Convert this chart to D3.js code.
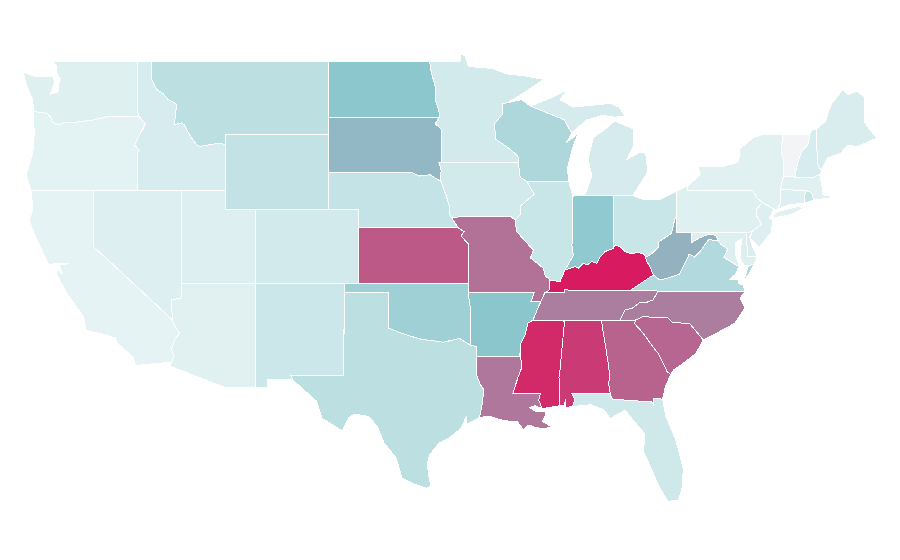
<!DOCTYPE html>
<html>
<head>
<meta charset="utf-8">
<style>
    html, body { margin: 0; padding: 0; background: #fff; }
    svg { display: block; }
    .state { stroke: #fff; stroke-width: 1; stroke-linejoin: round; shape-rendering: crispEdges; }
</style>
<script src="https://cdn.jsdelivr.net/npm/d3@7"></script>
</head>
<body>
<script>
// state values
var stateNames = ["WA","OR","CA","NV","UT","AZ","ID","MT","WY","CO","NM","ND","SD","NE","KS","OK","TX","MN","IA","MO","AR","LA","WI","IL","MS","AL","GA","TN","KY","IN","OH","MI","WV","VA","NC","SC","FL","NY","PA","NJ","VT","NH","ME","MA","CT","RI","DE","MD"];
var stateValues = [9,7,6,10,10,8,13,26,23,15,18,49,54,22,82,40,26,15,15,75,50,73,33,20,96,91,79,71,100,47,20,14,56,31,71,78,17,8,9,10,0,13,12,8,10,20,12,10];

// color ramp
var colorStops = [0, 6, 50, 100];
var colorRange = ["#f2f4f6", "#e5f3f4", "#8bc6cd", "#d81b60"];

// map frame: lon/lat anchors and where they land on the page
var lonDomain = [-120, -70];
var lonRange = [93.3, 831.8];
var latDomain = [25.1, 32, 37, 41, 45, 49];
var latRange = [502, 375.3, 283.3, 209.3, 134.7, 61];

// shared river borders, running downstream
var ohioRiver = [[-80.65,40.4],[-80.85,39.7],[-81.7,39.25],[-81.75,38.95],[-82.2,38.6],[-82.6,38.4],[-82.76,38.62],[-83.1,38.65],[-83.66,38.62],[-84,38.71],[-84.34,38.98],[-84.68,39.07],[-84.79,38.89],[-85.36,38.71],[-85.7,38.4],[-85.92,38.08],[-86.26,38.17],[-86.55,37.99],[-86.82,38.08],[-87.16,37.81],[-87.39,37.9],[-87.72,37.81],[-88.06,37.72],[-88.4,37.09],[-89.08,37.18]];
var lowerMississippi = [[-89.7,36],[-89.9,35.66],[-90.23,35],[-90.57,34.84],[-90.77,34.19],[-91.11,33.65],[-91.11,33.21],[-90.98,32.45],[-91.24,31.9],[-91.6,31]];
var upperMississippi = [[-91.45,40.42],[-91.33,39.8],[-90.65,39.18],[-90.2,38.8],[-90.4,38.37],[-89.55,37.83],[-89.4,37.4],[-89.08,37.18]];

function riverPart(river, from, to) {
    var part = river.slice(Math.min(from, to), Math.max(from, to) + 1);
    return from > to ? part.reverse() : part;
}

// outlines in lon/lat, one list of rings for each state
var outlines = {
    WA: [[[-122.76,49],[-117.03,49],[-117.04,46.4],[-116.92,46],[-119,46],[-119.3,45.93],[-120,45.8],[-120.6,45.74],[-121.2,45.67],[-121.9,45.68],[-122.3,45.55],[-122.75,45.65],[-122.85,45.9],[-123.1,46.15],[-123.4,46.2],[-123.9,46.24],[-124.05,46.27],[-124.1,46.9],[-124.35,47.35],[-124.6,47.9],[-124.73,48.38],[-123.9,48.16],[-123.1,48.15],[-122.75,48.15],[-122.6,47.9],[-122.9,47.2],[-122.4,47.3],[-122.35,47.7],[-122.25,48.05],[-122.5,48.4],[-122.5,48.75]]],
    OR: [[[-124.05,46.27],[-123.9,46.24],[-123.4,46.2],[-123.1,46.15],[-122.85,45.9],[-122.75,45.65],[-122.3,45.55],[-121.9,45.68],[-121.2,45.67],[-120.6,45.74],[-120,45.8],[-119.3,45.93],[-119,46],[-116.92,46],[-116.47,45.6],[-116.85,45],[-117.2,44.45],[-116.95,44.2],[-117.03,43.83],[-117.03,42],[-124.2,42],[-124.55,42.85],[-124.1,44],[-124,45]]],
    CA: [[[-124.2,42],[-120,42],[-120,39],[-114.63,35],[-114.57,34.8],[-114.15,34.27],[-114.45,34],[-114.72,33.4],[-114.52,33],[-114.72,32.72],[-117.12,32.53],[-117.3,33],[-118.4,33.75],[-118.5,34.03],[-119.2,34.2],[-120.5,34.45],[-120.65,35.15],[-121.9,36.6],[-122.5,37.5],[-122.4,37.8],[-122.1,37.5],[-122.3,38],[-121.7,38.05],[-122.4,38.1],[-123,38],[-123.8,39.3],[-124.35,40.4],[-124.1,41]]],
    NV: [[[-120,42],[-114.04,42],[-114.04,36.2],[-114.74,36.1],[-114.63,35],[-120,39]]],
    UT: [[[-114.04,42],[-111.05,42],[-111.05,41],[-109.05,41],[-109.05,37],[-114.04,37]]],
    AZ: [[[-114.04,37],[-109.05,37],[-109.05,31.33],[-111.07,31.33],[-114.82,32.5],[-114.72,32.72],[-114.52,33],[-114.72,33.4],[-114.45,34],[-114.15,34.27],[-114.57,34.8],[-114.63,35],[-114.74,36.1],[-114.04,36.2]]],
    ID: [[[-117.03,49],[-116.05,49],[-116.05,48],[-115.7,47.45],[-115.3,47.25],[-114.95,46.92],[-114.35,46.65],[-114.45,46],[-114.5,45.55],[-114,45.65],[-113.8,45.5],[-113.45,44.95],[-113,44.45],[-112.8,44.37],[-111.5,44.55],[-111.05,44.47],[-111.05,42],[-117.03,42],[-117.03,43.83],[-116.95,44.2],[-117.2,44.45],[-116.85,45],[-116.47,45.6],[-116.92,46],[-117.04,46.4]]],
    MT: [[[-116.05,49],[-104.05,49],[-104.05,45],[-111.05,45],[-111.05,44.47],[-111.5,44.55],[-112.8,44.37],[-113,44.45],[-113.45,44.95],[-113.8,45.5],[-114,45.65],[-114.5,45.55],[-114.45,46],[-114.35,46.65],[-114.95,46.92],[-115.3,47.25],[-115.7,47.45],[-116.05,48]]],
    WY: [[[-111.05,45],[-104.05,45],[-104.05,41],[-111.05,41]]],
    CO: [[[-109.05,41],[-102.05,41],[-102.05,37],[-109.05,37]]],
    NM: [[[-109.05,37],[-103,37],[-103.05,32],[-106.62,32],[-106.52,31.78],[-108.2,31.78],[-108.2,31.33],[-109.05,31.33]]],
    ND: [[[-104.05,49],[-97.23,49],[-97.15,48.5],[-96.85,47.6],[-96.85,46.9],[-96.6,46.3],[-96.56,45.94],[-104.05,45.94]]],
    SD: [[[-104.05,45.94],[-96.56,45.94],[-96.85,45.6],[-96.45,45.3],[-96.45,43.5],[-96.6,43.5],[-96.45,43.1],[-96.5,42.55],[-96.45,42.49],[-97.2,42.85],[-97.9,42.78],[-98.5,43],[-104.05,43]]],
    NE: [[[-104.05,43],[-98.5,43],[-97.9,42.78],[-97.2,42.85],[-96.45,42.49],[-96.1,41.7],[-95.9,41.2],[-95.85,40.7],[-95.3,40],[-102.05,40],[-102.05,41],[-104.05,41]]],
    KS: [[[-102.05,40],[-95.3,40],[-94.9,39.8],[-95.1,39.55],[-94.6,39.12],[-94.62,37],[-102.05,37]]],
    OK: [[[-103,37],[-94.62,37],[-94.62,36.5],[-94.43,35.4],[-94.48,33.64],[-95.2,34],[-96.3,33.8],[-97.2,33.9],[-97.7,33.94],[-98.4,34.1],[-99.2,34.3],[-100,34.56],[-100,36.5],[-103,36.5]]],
    TX: [[[-103,36.5],[-100,36.5],[-100,34.56],[-99.2,34.3],[-98.4,34.1],[-97.7,33.94],[-97.2,33.9],[-96.3,33.8],[-95.2,34],[-94.48,33.64],[-94.04,33.55],[-94.04,31.99],[-93.8,31.5],[-93.55,31.2],[-93.7,30.3],[-93.85,29.7],[-94.7,29.35],[-94.75,29.75],[-95.1,29.1],[-95.9,28.6],[-96.6,28.3],[-97.2,27.7],[-97.4,27.2],[-97.3,26.6],[-97.15,25.96],[-97.4,25.85],[-98.2,26.05],[-99.1,26.4],[-99.5,27.5],[-100.3,28.3],[-100.8,29.25],[-101.4,29.77],[-102.3,29.88],[-102.7,29.7],[-103.15,28.98],[-104.5,29.65],[-104.9,30.6],[-106.5,31.75],[-106.62,32],[-103.05,32]]],
    MN: [[[-97.23,49],[-95.15,49],[-95.15,49.38],[-94.85,49.3],[-94.6,48.7],[-93,48.6],[-92,48.3],[-90.8,48.2],[-89.5,48],[-90.8,47.3],[-92,46.7],[-92.3,46.65],[-92.3,46.1],[-92.85,45.6],[-92.75,44.75],[-91.9,44.3],[-91.25,43.85],[-91.22,43.5],[-96.45,43.5],[-96.45,45.3],[-96.85,45.6],[-96.56,45.94],[-96.6,46.3],[-96.85,46.9],[-96.85,47.6],[-97.15,48.5]]],
    IA: [[[-96.45,43.5],[-91.22,43.5],[-91.1,42.7],[-90.65,42.5],[-90.15,41.8],[-91.05,41.2],[-91.1,40.7],[-91.45,40.42],[-91.73,40.61],[-95.77,40.58],[-95.85,40.7],[-95.9,41.2],[-96.1,41.7],[-96.45,42.49],[-96.5,42.55],[-96.45,43.1],[-96.6,43.5]]],
    MO: [[[-95.77,40.58],[-91.73,40.61]].concat(upperMississippi, [[-89.15,36.6],[-89.42,36.5],[-89.7,36],[-90.37,36],[-90.15,36.5],[-94.62,36.5],[-94.62,37],[-94.6,39.12],[-95.1,39.55],[-94.9,39.8],[-95.3,40]])],
    AR: [[[-94.62,36.5],[-90.15,36.5],[-90.37,36]].concat(riverPart(lowerMississippi, 0, 6), [[-91.17,33],[-94.04,33.02],[-94.04,33.55],[-94.48,33.64],[-94.43,35.4]])],
    LA: [[[-94.04,33.02],[-91.17,33]].concat(riverPart(lowerMississippi, 6, 9), [[-89.73,31],[-89.85,30.65],[-89.6,30.18],[-90.1,30.35],[-90.45,30.25],[-90.1,30.05],[-89.4,30.05],[-89.4,29.8],[-89.6,29.5],[-89,29.2],[-89.4,29.1],[-90.1,29.15],[-90.5,29.3],[-90.9,29.05],[-91.3,29.5],[-91.8,29.5],[-92.3,29.55],[-93.2,29.77],[-93.85,29.7],[-93.7,30.3],[-93.55,31.2],[-93.8,31.5],[-94.04,31.99]])],
    WI: [[[-92.3,46.68],[-91,46.9],[-90.4,46.55],[-89,46.1],[-88.1,45.8],[-87.8,45.35],[-87.6,45.1],[-87.95,44.6],[-87.4,44.9],[-87.1,45.25],[-87.55,44.3],[-87.9,43.2],[-87.8,42.5],[-90.65,42.5],[-91.1,42.7],[-91.22,43.5],[-91.25,43.85],[-91.9,44.3],[-92.75,44.75],[-92.85,45.6],[-92.3,46.1]]],
    IL: [[[-91.45,40.42],[-91.1,40.7],[-91.05,41.2],[-90.15,41.8],[-90.65,42.5],[-87.8,42.5],[-87.55,41.75],[-87.53,41.7],[-87.53,39.35],[-87.6,39.1],[-87.5,38.5]].concat(riverPart(ohioRiver, 22, 24), riverPart(upperMississippi, 6, 1))],
    MS: [[[-90.23,35],[-88.2,35],[-88.1,34.9],[-88.4,32.3],[-88.47,31.9],[-88.4,30.35],[-89.6,30.18],[-89.85,30.65],[-89.73,31]].concat(riverPart(lowerMississippi, 9, 3))],
    AL: [[[-88.2,35],[-85.6,34.98],[-85.18,32.87],[-85.05,32.1],[-85.1,31.5],[-85,31],[-87.6,31],[-87.4,30.65],[-87.55,30.3],[-88,30.25],[-88,30.7],[-88.15,30.35],[-88.4,30.35],[-88.47,31.9],[-88.4,32.3],[-88.1,34.9]]],
    GA: [[[-85.6,34.98],[-83.3,35],[-83.35,34.8],[-82.78,34.3],[-82.3,33.75],[-81.77,33.2],[-81.43,32.66],[-81.15,32.2],[-80.9,32.05],[-81.3,31.3],[-81.45,30.7],[-82.05,30.75],[-82.05,30.36],[-82.2,30.55],[-84.86,30.7],[-85,31],[-85.1,31.5],[-85.05,32.1],[-85.18,32.87]]],
    TN: [[[-90.23,35],[-89.9,35.66],[-89.7,36],[-89.42,36.5],[-88.07,36.5],[-88.07,36.68],[-87.85,36.63],[-83.68,36.6],[-81.77,36.58],[-82.1,36.09],[-82.6,35.95],[-83,35.95],[-83.5,35.65],[-84,35.55],[-84.34,35],[-85.6,34.98],[-88.2,35]]],
    KY: [[[-89.42,36.5],[-89.15,36.6]].concat(riverPart(ohioRiver, 24, 5), [[-82.53,38.17],[-82.31,37.9],[-82.08,37.45],[-83.68,36.6],[-87.85,36.63],[-88.07,36.68],[-88.07,36.5]])],
    IN: [[[-87.53,41.7],[-87.2,41.76],[-84.8,41.76],[-84.8,39.07]].concat(riverPart(ohioRiver, 12, 22), [[-87.5,38.5],[-87.6,39.1],[-87.53,39.35]])],
    OH: [[[-84.8,41.72],[-83.45,41.73],[-82.7,41.5],[-81.7,41.5],[-80.52,41.98],[-80.52,40.64]].concat(riverPart(ohioRiver, 0, 11), [[-84.8,39.07]])],
    MI: [[[-86.8,41.76],[-84.8,41.72],[-83.45,41.73],[-83.1,42.2],[-82.45,43],[-82.6,44],[-83,44.07],[-83.9,43.65],[-83.4,44.4],[-83.4,45.3],[-84.7,45.75],[-85.35,45.3],[-86.15,44.85],[-86.5,43.7],[-86.25,42.8],[-86.6,41.95]], [[-90.4,46.55],[-89,47],[-87.9,47.45],[-88.4,46.9],[-87.5,46.5],[-85,46.7],[-84.4,46.5],[-84,46],[-84.7,45.95],[-85.5,46.05],[-86.6,45.8],[-87.6,45.1],[-87.8,45.35],[-88.1,45.8],[-89,46.1]], [[-89.2,47.85],[-88.5,48.15],[-88.9,47.95]]],
    WV: [riverPart(ohioRiver, 5, 0).concat([[-80.52,40.64],[-80.52,39.72],[-79.48,39.72],[-79.48,39.2],[-78.97,39.45],[-78.35,39.65],[-77.85,39.6],[-77.72,39.32],[-78.35,39.35],[-78.87,38.77],[-79.3,38.42],[-79.65,38.58],[-80.3,37.5],[-81.2,37.25],[-81.68,37.2],[-82.08,37.45],[-82.31,37.9],[-82.53,38.17]])],
    VA: [[[-83.68,36.6],[-82.08,37.45],[-81.68,37.2],[-81.2,37.25],[-80.3,37.5],[-79.65,38.58],[-79.3,38.42],[-78.87,38.77],[-78.35,39.35],[-77.72,39.32],[-77.5,39.1],[-77.05,38.85],[-77.3,38.4],[-76.3,37.9],[-76.5,37.5],[-76.9,37.2],[-76.3,37.2],[-76.3,37],[-76,36.9],[-75.87,36.55],[-81.77,36.58]], [[-75.95,37.15],[-75.65,37.95],[-75.25,38.03],[-75.6,37.5]]],
    NC: [[[-84.34,35],[-84,35.55],[-83.5,35.65],[-83,35.95],[-82.6,35.95],[-82.1,36.09],[-81.77,36.58],[-75.87,36.55],[-76.2,36.2],[-75.87,35.66],[-76.55,34.84],[-78,34.2],[-78.7,33.92],[-79.6,34.79],[-80.83,34.9],[-81.1,35.13],[-82.8,35.18],[-83.3,35]]],
    SC: [[[-83.3,35],[-82.8,35.18],[-81.1,35.13],[-80.83,34.9],[-79.6,34.79],[-78.7,33.92],[-79.2,33.2],[-79.9,32.75],[-80.4,32.45],[-80.7,32.3],[-80.9,32.05],[-81.15,32.2],[-81.43,32.66],[-81.77,33.2],[-82.3,33.75],[-82.78,34.3],[-83.35,34.8]]],
    FL: [[[-87.6,31],[-85,31],[-84.86,30.7],[-82.2,30.55],[-82.05,30.36],[-82.05,30.75],[-81.45,30.7],[-81.25,29.8],[-80.55,28.45],[-80.05,26.9],[-80.15,25.75],[-80.4,25.2],[-81.1,25.13],[-81.8,26.1],[-82.1,26.7],[-82.75,27.85],[-82.65,28.8],[-83.4,29.5],[-84,30.1],[-85,29.65],[-85.4,30.1],[-86.3,30.4],[-87.55,30.3],[-87.4,30.65]]],
    NY: [[[-79.76,42.25],[-78.9,42.85],[-79.05,43.27],[-77.5,43.27],[-76.4,43.5],[-76.2,43.95],[-76.3,44.2],[-75.3,44.85],[-74.7,45],[-73.35,45],[-73.4,44],[-73.25,43.6],[-73.27,42.75],[-73.5,42.05],[-73.5,41.3],[-73.65,41],[-73.9,41],[-74.7,41.36],[-75.05,41.6],[-75.35,42],[-79.76,42]], [[-74,40.6],[-73.7,40.87],[-72.3,41.15],[-71.9,41.07],[-72.8,40.7],[-73.9,40.55]]],
    PA: [[[-80.52,41.98],[-79.76,42.25],[-79.76,42],[-75.35,42],[-75.05,41.6],[-74.7,41.36],[-75.1,41],[-75.13,40.7],[-74.75,40.2],[-75.4,39.8],[-75.79,39.72],[-80.52,39.72]]],
    NJ: [[[-74.7,41.36],[-73.9,41],[-74.25,40.5],[-74,40.45],[-74.1,39.75],[-74.9,38.95],[-75.55,39.45],[-75.4,39.8],[-74.75,40.2],[-75.13,40.7],[-75.1,41]]],
    VT: [[[-73.35,45],[-71.5,45],[-71.6,44.5],[-72.05,44.1],[-72.3,43.5],[-72.45,43],[-72.46,42.73],[-73.27,42.75],[-73.25,43.6],[-73.4,44]]],
    NH: [[[-71.5,45],[-71.3,45.3],[-71.05,45.3],[-70.97,43.4],[-70.7,43.07],[-70.82,42.87],[-71.3,42.7],[-72.46,42.73],[-72.45,43],[-72.3,43.5],[-72.05,44.1],[-71.6,44.5]]],
    ME: [[[-71.05,45.3],[-70.4,45.75],[-70.25,46.2],[-70,46.7],[-69.23,47.46],[-68.9,47.18],[-68.3,47.35],[-67.8,47.07],[-67.8,45.7],[-67.45,45.3],[-66.95,44.82],[-68.3,44.34],[-68.9,44.45],[-69.4,44],[-70.3,43.75],[-70.7,43.07],[-70.97,43.4]]],
    MA: [[[-73.5,42.05],[-73.27,42.75],[-71.3,42.7],[-70.82,42.87],[-70.65,42.2],[-70.65,41.77],[-70.1,41.75],[-70.1,41.62],[-70.65,41.55],[-71.2,41.5],[-71.38,41.9],[-71.8,42.02]]],
    CT: [[[-73.5,42.05],[-71.8,42.02],[-71.85,41.32],[-72.9,41.25],[-73.65,41],[-73.5,41.3]]],
    RI: [[[-71.8,42.02],[-71.38,41.9],[-71.2,41.5],[-71.85,41.32]]],
    DE: [[[-75.79,39.72],[-75.4,39.8],[-75.55,39.5],[-75.4,39.05],[-75.05,38.45],[-75.7,38.46]]],
    MD: [[[-79.48,39.72],[-75.79,39.72],[-75.7,38.46],[-75.05,38.45],[-75.25,38.03],[-75.65,37.95],[-75.9,37.95],[-76.2,38.3],[-76.2,38.7],[-76.1,39.4],[-76.5,39.2],[-76.5,38.5],[-76.3,38.05],[-76.3,37.9],[-77.3,38.4],[-77.05,38.85],[-77.5,39.1],[-77.72,39.32],[-77.85,39.6],[-78.35,39.65],[-78.97,39.45],[-79.48,39.2]]]
};

var width = 900,
    height = 560;

var x = d3.scaleLinear().domain(lonDomain).range(lonRange);
var y = d3.scaleLinear().domain(latDomain).range(latRange);

var color = d3.scaleLinear().domain(colorStops).range(colorRange);

var frame = d3.geoTransform({
    point: function (lon, lat) {
        this.stream.point(x(lon), y(lat));
    }
});

var path = d3.geoPath(frame);

var states = stateNames.map(function (name, i) {
    return {
        type: "Feature",
        id: name,
        properties: { value: stateValues[i] },
        geometry: {
            type: "MultiPolygon",
            coordinates: outlines[name].map(function (ring) {
                // geojson rings repeat their first point at the end
                return [ring.concat([ring[0]])];
            })
        }
    };
});

var svg = d3.select("body").append("svg")
    .attr("width", width)
    .attr("height", height);

svg.selectAll(".state")
    .data(states)
    .enter().append("path")
    .attr("class", "state")
    .attr("d", path)
    .attr("fill", function (d) {
        return color(d.properties.value);
    });
</script>
</body>
</html>
